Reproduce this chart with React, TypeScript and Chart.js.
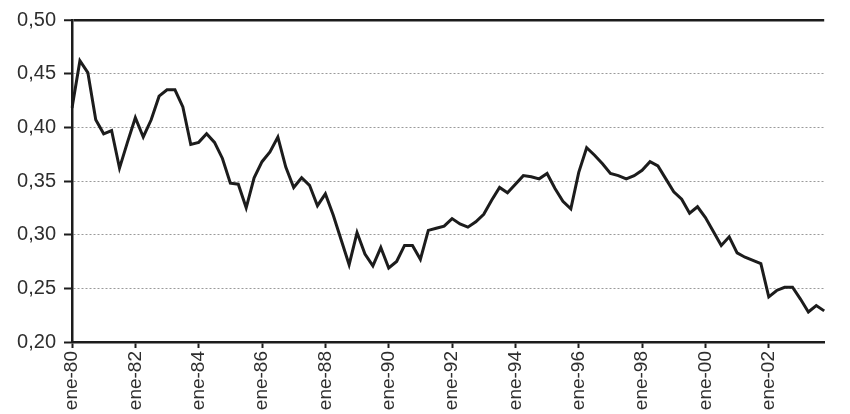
import React, { useEffect, useRef } from "react";
import { Chart, registerables } from "chart.js";

Chart.register(...registerables);

const startYear = 1980;
const quarterMonths = ["ene", "abr", "jul", "oct"];
const values = [
  0.418, 0.462, 0.451, 0.407, 0.394, 0.397, 0.362, 0.386,
  0.409, 0.391, 0.407, 0.429, 0.435, 0.435, 0.419, 0.384,
  0.386, 0.394, 0.386, 0.371, 0.348, 0.347, 0.325, 0.353,
  0.368, 0.377, 0.391, 0.363, 0.344, 0.353, 0.346, 0.327,
  0.338, 0.318, 0.295, 0.272, 0.302, 0.282, 0.271, 0.288,
  0.269, 0.275, 0.290, 0.290, 0.277, 0.304, 0.306, 0.308,
  0.315, 0.310, 0.307, 0.312, 0.319, 0.332, 0.344, 0.339,
  0.347, 0.355, 0.354, 0.352, 0.357, 0.343, 0.331, 0.324,
  0.358, 0.381, 0.374, 0.366, 0.357, 0.355, 0.352, 0.355,
  0.360, 0.368, 0.364, 0.352, 0.340, 0.333, 0.320, 0.326,
  0.316, 0.303, 0.290, 0.298, 0.283, 0.279, 0.276, 0.273,
  0.242, 0.248, 0.251, 0.251, 0.240, 0.228, 0.234, 0.229,
];
const categories = values.map((_, i) => {
  const y = (startYear + Math.floor(i / 4)) % 100;
  return quarterMonths[i % 4] + "-" + String(y).padStart(2, "0");
});
const labelEvery = 8;
const yMin = 0.2;
const yMax = 0.5;
const yStep = 0.05;

export default function App() {
  const ref = useRef<HTMLCanvasElement | null>(null);
  useEffect(() => {
    if (!ref.current) return;
    const chart = new Chart(ref.current, {
      type: "line",
      data: {
        labels: categories,
        datasets: [
          {
            data: values,
            borderColor: "#1c1c1c",
            borderWidth: 3,
            pointRadius: 0,
            tension: 0,
            fill: false,
          },
        ],
      },
      options: {
        responsive: false,
        animation: false,
        layout: { padding: { top: 20, right: 0, left: 0, bottom: 0 } },
        plugins: { legend: { display: false }, tooltip: { enabled: false } },
        scales: {
          x: {
            type: "category",
            offset: false,
            grid: {
              drawOnChartArea: false,
              drawTicks: true,
              tickLength: 6,
              tickWidth: 2,
              tickColor: (c: any) => (c.index % labelEvery === 0 ? "#1c1c1c" : "rgba(0,0,0,0)"),
            },
            border: { display: true, color: "#1c1c1c", width: 2.5 },
            ticks: {
              autoSkip: false,
              minRotation: 90,
              maxRotation: 90,
              padding: 3,
              color: "#2e2e2e",
              font: { family: "Liberation Sans, Arial, sans-serif", size: 19 },
              callback: (_v: any, i: number) => (i % labelEvery === 0 ? categories[i] : ""),
            },
            afterFit: (s: any) => {
              s.height = 72;
            },
          },
          y: {
            min: yMin,
            max: yMax,
            grid: {
              color: (c: any) =>
                c.tick && Math.abs(c.tick.value - yMax) < 1e-6 ? "#1c1c1c" : Math.abs((c.tick?.value ?? 0) - yMin) < 1e-6 ? "rgba(0,0,0,0)" : "#9a9a9a",
              lineWidth: (c: any) => (c.tick && Math.abs(c.tick.value - yMax) < 1e-6 ? 2.5 : 1),
              drawTicks: true,
              tickLength: 8,
              tickWidth: 2,
              tickColor: "#1c1c1c",
            },
            border: {
              display: true,
              color: "#1c1c1c",
              width: 2.5,
              dash: (c: any) => (c.tick && Math.abs(c.tick.value - yMax) < 1e-6 ? [] : [2, 2]),
            },
            ticks: {
              stepSize: yStep,
              padding: 8,
              color: "#2e2e2e",
              font: { family: "Liberation Sans, Arial, sans-serif", size: 20 },
              callback: (v: any) => Number(v).toFixed(2).replace(".", ","),
            },
            afterFit: (s: any) => {
              s.width = 72;
            },
          },
        },
      },
    });
    return () => chart.destroy();
  }, []);
  return (
    <div style={{ position: "fixed", left: 0, top: 0, width: 850, height: 414, background: "#fff" }}>
      <canvas ref={ref} width={850} height={414} />
    </div>
  );
}
